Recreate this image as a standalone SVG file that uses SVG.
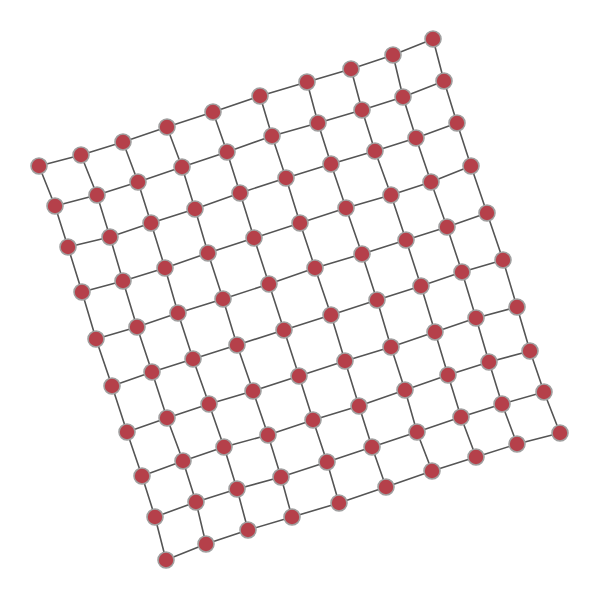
<svg xmlns="http://www.w3.org/2000/svg" width="600" height="600" viewBox="0 0 600 600">
<style>
.e{stroke:#555;stroke-width:1.6;fill:none}
.n{fill:#b5404a;stroke:#a0a0a0;stroke-width:1.6}
</style>
<rect width="600" height="600" fill="#fff"/>
<g id="connectors" class="e">
<polyline points="39,166 81,155 123,142 167,127 213,112 260,96 307,82 351,69 393,55 433,39"/>
<polyline points="55,206 97,195 138,182 182,167 227,152 272,136 318,123 362,110 403,97 444,81"/>
<polyline points="68,247 110,237 151,223 195,209 240,193 286,178 331,164 375,151 416,138 457,123"/>
<polyline points="82,292 123,281 165,268 208,253 254,238 300,223 346,208 391,195 431,182 471,166"/>
<polyline points="96,339 137,327 178,313 223,299 269,284 315,268 362,254 406,240 447,227 487,213"/>
<polyline points="112,386 152,372 193,359 237,345 284,330 331,315 377,300 421,286 462,272 503,260"/>
<polyline points="127,432 167,418 209,404 253,391 299,376 345,361 391,347 435,332 476,318 517,307"/>
<polyline points="142,476 183,461 224,447 268,435 313,420 359,406 405,390 448,375 489,362 530,351"/>
<polyline points="155,517 196,502 237,489 281,477 327,462 372,447 417,432 461,417 502,404 544,392"/>
<polyline points="166,560 206,544 248,530 292,517 339,503 386,487 432,471 476,457 517,444 560,433"/>
<polyline points="39,166 55,206 68,247 82,292 96,339 112,386 127,432 142,476 155,517 166,560"/>
<polyline points="81,155 97,195 110,237 123,281 137,327 152,372 167,418 183,461 196,502 206,544"/>
<polyline points="123,142 138,182 151,223 165,268 178,313 193,359 209,404 224,447 237,489 248,530"/>
<polyline points="167,127 182,167 195,209 208,253 223,299 237,345 253,391 268,435 281,477 292,517"/>
<polyline points="213,112 227,152 240,193 254,238 269,284 284,330 299,376 313,420 327,462 339,503"/>
<polyline points="260,96 272,136 286,178 300,223 315,268 331,315 345,361 359,406 372,447 386,487"/>
<polyline points="307,82 318,123 331,164 346,208 362,254 377,300 391,347 405,390 417,432 432,471"/>
<polyline points="351,69 362,110 375,151 391,195 406,240 421,286 435,332 448,375 461,417 476,457"/>
<polyline points="393,55 403,97 416,138 431,182 447,227 462,272 476,318 489,362 502,404 517,444"/>
<polyline points="433,39 444,81 457,123 471,166 487,213 503,260 517,307 530,351 544,392 560,433"/>
</g>
<g id="nodes" class="n">
<g id="n0_0"><circle cx="39" cy="166" r="8"/></g><g id="n0_1"><circle cx="81" cy="155" r="8"/></g><g id="n0_2"><circle cx="123" cy="142" r="8"/></g><g id="n0_3"><circle cx="167" cy="127" r="8"/></g><g id="n0_4"><circle cx="213" cy="112" r="8"/></g><g id="n0_5"><circle cx="260" cy="96" r="8"/></g><g id="n0_6"><circle cx="307" cy="82" r="8"/></g><g id="n0_7"><circle cx="351" cy="69" r="8"/></g><g id="n0_8"><circle cx="393" cy="55" r="8"/></g><g id="n0_9"><circle cx="433" cy="39" r="8"/></g>
<g id="n1_0"><circle cx="55" cy="206" r="8"/></g><g id="n1_1"><circle cx="97" cy="195" r="8"/></g><g id="n1_2"><circle cx="138" cy="182" r="8"/></g><g id="n1_3"><circle cx="182" cy="167" r="8"/></g><g id="n1_4"><circle cx="227" cy="152" r="8"/></g><g id="n1_5"><circle cx="272" cy="136" r="8"/></g><g id="n1_6"><circle cx="318" cy="123" r="8"/></g><g id="n1_7"><circle cx="362" cy="110" r="8"/></g><g id="n1_8"><circle cx="403" cy="97" r="8"/></g><g id="n1_9"><circle cx="444" cy="81" r="8"/></g>
<g id="n2_0"><circle cx="68" cy="247" r="8"/></g><g id="n2_1"><circle cx="110" cy="237" r="8"/></g><g id="n2_2"><circle cx="151" cy="223" r="8"/></g><g id="n2_3"><circle cx="195" cy="209" r="8"/></g><g id="n2_4"><circle cx="240" cy="193" r="8"/></g><g id="n2_5"><circle cx="286" cy="178" r="8"/></g><g id="n2_6"><circle cx="331" cy="164" r="8"/></g><g id="n2_7"><circle cx="375" cy="151" r="8"/></g><g id="n2_8"><circle cx="416" cy="138" r="8"/></g><g id="n2_9"><circle cx="457" cy="123" r="8"/></g>
<g id="n3_0"><circle cx="82" cy="292" r="8"/></g><g id="n3_1"><circle cx="123" cy="281" r="8"/></g><g id="n3_2"><circle cx="165" cy="268" r="8"/></g><g id="n3_3"><circle cx="208" cy="253" r="8"/></g><g id="n3_4"><circle cx="254" cy="238" r="8"/></g><g id="n3_5"><circle cx="300" cy="223" r="8"/></g><g id="n3_6"><circle cx="346" cy="208" r="8"/></g><g id="n3_7"><circle cx="391" cy="195" r="8"/></g><g id="n3_8"><circle cx="431" cy="182" r="8"/></g><g id="n3_9"><circle cx="471" cy="166" r="8"/></g>
<g id="n4_0"><circle cx="96" cy="339" r="8"/></g><g id="n4_1"><circle cx="137" cy="327" r="8"/></g><g id="n4_2"><circle cx="178" cy="313" r="8"/></g><g id="n4_3"><circle cx="223" cy="299" r="8"/></g><g id="n4_4"><circle cx="269" cy="284" r="8"/></g><g id="n4_5"><circle cx="315" cy="268" r="8"/></g><g id="n4_6"><circle cx="362" cy="254" r="8"/></g><g id="n4_7"><circle cx="406" cy="240" r="8"/></g><g id="n4_8"><circle cx="447" cy="227" r="8"/></g><g id="n4_9"><circle cx="487" cy="213" r="8"/></g>
<g id="n5_0"><circle cx="112" cy="386" r="8"/></g><g id="n5_1"><circle cx="152" cy="372" r="8"/></g><g id="n5_2"><circle cx="193" cy="359" r="8"/></g><g id="n5_3"><circle cx="237" cy="345" r="8"/></g><g id="n5_4"><circle cx="284" cy="330" r="8"/></g><g id="n5_5"><circle cx="331" cy="315" r="8"/></g><g id="n5_6"><circle cx="377" cy="300" r="8"/></g><g id="n5_7"><circle cx="421" cy="286" r="8"/></g><g id="n5_8"><circle cx="462" cy="272" r="8"/></g><g id="n5_9"><circle cx="503" cy="260" r="8"/></g>
<g id="n6_0"><circle cx="127" cy="432" r="8"/></g><g id="n6_1"><circle cx="167" cy="418" r="8"/></g><g id="n6_2"><circle cx="209" cy="404" r="8"/></g><g id="n6_3"><circle cx="253" cy="391" r="8"/></g><g id="n6_4"><circle cx="299" cy="376" r="8"/></g><g id="n6_5"><circle cx="345" cy="361" r="8"/></g><g id="n6_6"><circle cx="391" cy="347" r="8"/></g><g id="n6_7"><circle cx="435" cy="332" r="8"/></g><g id="n6_8"><circle cx="476" cy="318" r="8"/></g><g id="n6_9"><circle cx="517" cy="307" r="8"/></g>
<g id="n7_0"><circle cx="142" cy="476" r="8"/></g><g id="n7_1"><circle cx="183" cy="461" r="8"/></g><g id="n7_2"><circle cx="224" cy="447" r="8"/></g><g id="n7_3"><circle cx="268" cy="435" r="8"/></g><g id="n7_4"><circle cx="313" cy="420" r="8"/></g><g id="n7_5"><circle cx="359" cy="406" r="8"/></g><g id="n7_6"><circle cx="405" cy="390" r="8"/></g><g id="n7_7"><circle cx="448" cy="375" r="8"/></g><g id="n7_8"><circle cx="489" cy="362" r="8"/></g><g id="n7_9"><circle cx="530" cy="351" r="8"/></g>
<g id="n8_0"><circle cx="155" cy="517" r="8"/></g><g id="n8_1"><circle cx="196" cy="502" r="8"/></g><g id="n8_2"><circle cx="237" cy="489" r="8"/></g><g id="n8_3"><circle cx="281" cy="477" r="8"/></g><g id="n8_4"><circle cx="327" cy="462" r="8"/></g><g id="n8_5"><circle cx="372" cy="447" r="8"/></g><g id="n8_6"><circle cx="417" cy="432" r="8"/></g><g id="n8_7"><circle cx="461" cy="417" r="8"/></g><g id="n8_8"><circle cx="502" cy="404" r="8"/></g><g id="n8_9"><circle cx="544" cy="392" r="8"/></g>
<g id="n9_0"><circle cx="166" cy="560" r="8"/></g><g id="n9_1"><circle cx="206" cy="544" r="8"/></g><g id="n9_2"><circle cx="248" cy="530" r="8"/></g><g id="n9_3"><circle cx="292" cy="517" r="8"/></g><g id="n9_4"><circle cx="339" cy="503" r="8"/></g><g id="n9_5"><circle cx="386" cy="487" r="8"/></g><g id="n9_6"><circle cx="432" cy="471" r="8"/></g><g id="n9_7"><circle cx="476" cy="457" r="8"/></g><g id="n9_8"><circle cx="517" cy="444" r="8"/></g><g id="n9_9"><circle cx="560" cy="433" r="8"/></g>
</g>
</svg>
